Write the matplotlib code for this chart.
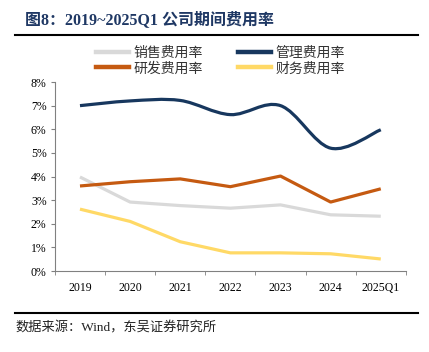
import matplotlib
matplotlib.use("Agg")
import matplotlib.pyplot as plt
from matplotlib.path import Path
from matplotlib.patches import PathPatch
from matplotlib.lines import Line2D
import numpy as np

plt.rcParams['font.family'] = ['Liberation Serif', 'Noto Sans CJK SC']

categories = ["2019", "2020", "2021", "2022", "2023", "2024", "2025Q1"]
sales = [3.98, 2.92, 2.77, 2.66, 2.80, 2.38, 2.32]
admin = [7.00, 7.20, 7.22, 6.62, 7.00, 5.20, 5.98]
rnd = [3.60, 3.78, 3.90, 3.57, 4.02, 2.92, 3.48]
fin = [2.62, 2.10, 1.24, 0.77, 0.77, 0.73, 0.51]
yticks = [0, 1, 2, 3, 4, 5, 6, 7, 8]

names = {"sales": "销售费用率", "admin": "管理费用率", "rnd": "研发费用率", "fin": "财务费用率"}
colors = {"sales": "#D9D9D9", "admin": "#17375E", "rnd": "#C55A11", "fin": "#FFD966"}

fig = plt.figure(figsize=(4.29, 3.52), dpi=100)
ax = fig.add_axes([0.128, 0.230, 0.818, 0.537])

x = np.arange(len(categories))
lw = 2.3
ax.plot(x, sales, color=colors["sales"], lw=lw, solid_capstyle='butt', zorder=2)
ax.plot(x, fin, color=colors["fin"], lw=lw, solid_capstyle='butt', zorder=2)
ax.plot(x, rnd, color=colors["rnd"], lw=lw, solid_capstyle='butt', zorder=3)

# smooth (Bezier) path for admin line, vertices from data
verts = [(x[0], admin[0])]
codes = [Path.MOVETO]
n = len(x)
t = 1/6
for i in range(n - 1):
    p0 = (x[max(i-1, 0)], admin[max(i-1, 0)])
    p1 = (x[i], admin[i])
    p2 = (x[i+1], admin[i+1])
    p3 = (x[min(i+2, n-1)], admin[min(i+2, n-1)])
    c1 = (p1[0] + (p2[0]-p0[0])*t, p1[1] + (p2[1]-p0[1])*t)
    c2 = (p2[0] - (p3[0]-p1[0])*t, p2[1] - (p3[1]-p1[1])*t)
    verts += [c1, c2, p2]
    codes += [Path.CURVE4]*3
ax.add_patch(PathPatch(Path(verts, codes), facecolor='none', edgecolor=colors["admin"],
                       lw=lw, capstyle='butt', zorder=4))

ax.set_xlim(-0.5, len(categories) - 0.5)
ax.set_ylim(0, 8)
ax.set_yticks(yticks)
ax.set_yticklabels([f"{v}%" for v in yticks], fontsize=8.5)
ax.set_xticks(x)
ax.set_xticklabels(categories, fontsize=8.5)
ax.set_xticks(np.arange(-0.5, len(categories), 1), minor=True)
ax.tick_params(axis='x', which='major', length=0, pad=8)
ax.tick_params(axis='x', which='minor', length=3, color='#808080', direction='out')
ax.tick_params(axis='y', length=3, color='#808080', direction='out', pad=3)
for s in ['top', 'right']:
    ax.spines[s].set_visible(False)
for s in ['left', 'bottom']:
    ax.spines[s].set_color('#808080')
    ax.spines[s].set_linewidth(0.8)

order = ["sales", "rnd", "admin", "fin"]
handles = [Line2D([], [], color=colors[k], lw=3.2) for k in order]
leg = fig.legend(handles, [names[k] for k in order], loc='upper left',
                 bbox_to_anchor=(0.195, 0.905), ncol=2,
                 frameon=False, handlelength=2.4, columnspacing=2.5, handletextpad=0.3,
                 labelspacing=0.1, prop={'family': ['Noto Sans CJK SC'], 'size': 10})
for t_ in leg.get_texts():
    t_.set_color('#333333')

fig.text(0.058, 0.945, "图8：2019~2025Q1 公司期间费用率", fontsize=11.5, fontweight='bold',
         color='#1F3864', family=['Liberation Serif', 'Noto Sans CJK SC'], va='center')
fig.add_artist(Line2D([0.035, 0.975], [0.9, 0.9], color='black', lw=1.5))
fig.add_artist(Line2D([0.035, 0.975], [0.111, 0.111], color='black', lw=1.5))
fig.text(0.035, 0.068, "数据来源：Wind，东吴证券研究所", fontsize=9.5, color='#222222',
         family=['Liberation Serif', 'Noto Sans CJK SC'], va='center')

fig.savefig("out.png", dpi=100)
